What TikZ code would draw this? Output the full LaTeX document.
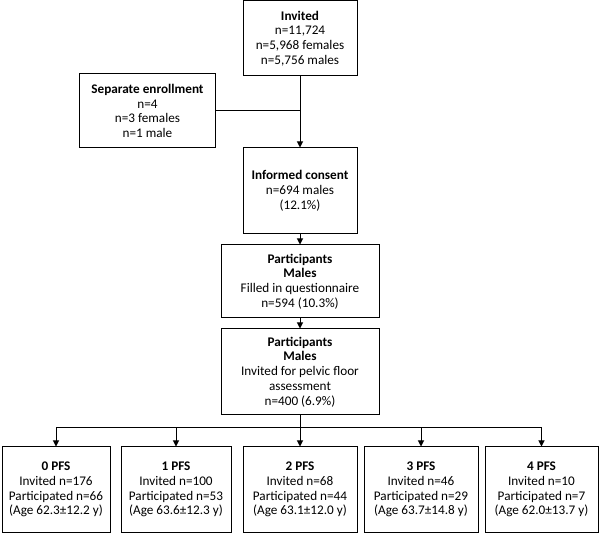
\documentclass[tikz,border=0pt]{standalone}
\usepackage{fontspec}
\setmainfont{Carlito}
\usetikzlibrary{arrows.meta, positioning}
\tikzset{
  box/.style = {
    draw, line width=1pt, align=center, inner sep=2pt,
    font=\fontsize{13.2}{14.8}\selectfont
  },
  arr/.style = {
    line width=1pt, -{Triangle[width=6pt, length=6pt]}
  }
}

\begin{document}
\begin{tikzpicture}[x=1pt, y=-1pt]

    \useasboundingbox (0,0) rectangle (600,534);

    %% Enrollment flow

    % Upper column
    \node[box, minimum width=114pt, minimum height=75pt] (inv) at (300,38.5)
        {\textbf{Invited}\\n=11,724\\n=5,968 females\\n=5,756 males};
    \node[box, minimum width=136pt, minimum height=74pt] (sep) at (147.5,111)
        {\textbf{Separate enrollment}\\n=4\\n=3 females\\n=1 male};
    \node[box, minimum width=114pt, minimum height=86pt] (cons) at (300,191)
        {\textbf{Informed consent}\\n=694 males\\(12.1\%)};
    \node[box, minimum width=158pt, minimum height=73pt] (quest) at (300,281.5)
        {\textbf{Participants}\\\textbf{Males}\\Filled in questionnaire\\n=594 (10.3\%)};
    \node[box, minimum width=158pt, minimum height=86pt] (pelvic) at (300,372)
        {\textbf{Participants}\\\textbf{Males}\\Invited for pelvic floor\\assessment\\n=400 (6.9\%)};

    % PFS groups
    \node[box, minimum width=108pt, minimum height=85pt] (pfs0) at (56,489.5)
        {\textbf{0 PFS}\\Invited n=176\\Participated n=66\\(Age 62.3\textpm12.2 y)};
    \node[box, minimum width=110pt, minimum height=85pt] (pfs1) at (176,489.5)
        {\textbf{1 PFS}\\Invited n=100\\Participated n=53\\(Age 63.6\textpm12.3 y)};
    \node[box, minimum width=114pt, minimum height=85pt] (pfs2) at (300,489.5)
        {\textbf{2 PFS}\\Invited n=68\\Participated n=44\\(Age 63.1\textpm12.0 y)};
    \node[box, minimum width=114pt, minimum height=85pt] (pfs3) at (421,489.5)
        {\textbf{3 PFS}\\Invited n=46\\Participated n=29\\(Age 63.7\textpm14.8 y)};
    \node[box, minimum width=113pt, minimum height=85pt] (pfs4) at (541.5,489.5)
        {\textbf{4 PFS}\\Invited n=10\\Participated n=7\\(Age 62.0\textpm13.7 y)};

    % Arrows
    \coordinate (bus) at (300,428);
    \draw[arr] (inv) -- (cons);
    \draw[line width=1pt] (sep.east) -- (sep.east -| inv.south);
    \draw[arr] (cons) -- (quest);
    \draw[arr] (quest) -- (pelvic);
    \draw[arr] (pelvic) -- (pfs2);
    \draw[line width=1pt] (pfs0.north |- bus) -- (pfs4.north |- bus);
    \draw[arr] (pfs0.north |- bus) -- (pfs0);
    \draw[arr] (pfs1.north |- bus) -- (pfs1);
    \draw[arr] (pfs3.north |- bus) -- (pfs3);
    \draw[arr] (pfs4.north |- bus) -- (pfs4);

\end{tikzpicture}
\end{document}
